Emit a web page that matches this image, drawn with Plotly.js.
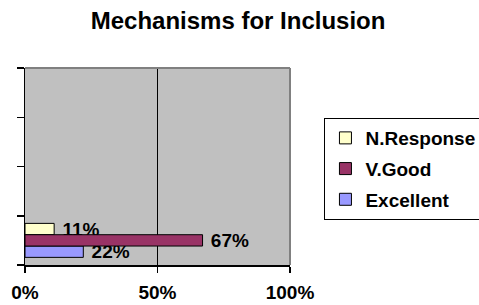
<!DOCTYPE html>
<html>
<head>
<meta charset="utf-8">
<script src="https://cdn.plot.ly/plotly-3.0.1.min.js"></script>
<style>html,body{margin:0;padding:0;background:#fff;}#chart{width:479px;height:305px;}</style>
</head>
<body>
<div id="chart"></div>
<script>
// Data
var categories = ['Mechanisms for Inclusion'];
var seriesNames = ['N.Response', 'V.Good', 'Excellent'];
var nResponse = [11];
var vGood = [67];
var excellent = [22];
var xTickVals = [0, 50, 100];
var xTickText = ['0%', '50%', '100%'];

var catPos = categories.map(function (c, i) { return i; });
var FONT = 'Liberation Sans, Arial, sans-serif';
var lblFont = {family: FONT, size: 19, color: '#000', weight: 'bold'};

function barTrace(name, vals, color, offset, rank) {
  return {
    type: 'bar', orientation: 'h', name: name,
    x: vals, y: catPos,
    width: 0.23, offset: offset,
    marker: {color: color, line: {color: '#000', width: 1}},
    text: vals.map(function (v) { return '\u00a0' + v + '%'; }),
    textposition: 'outside', constraintext: 'none', cliponaxis: false,
    textfont: lblFont,
    legendgroup: name, legendrank: rank,
    hoverinfo: 'skip'
  };
}

var data = [
  barTrace(seriesNames[0], nResponse, '#FFFFCC', 0.115, 1),
  barTrace(seriesNames[2], excellent, '#9999FF', -0.345, 3),
  barTrace(seriesNames[1], vGood, '#993366', -0.115, 2)
];

var layout = {
  width: 479, height: 305,
  margin: {l: 25, r: 189, t: 68, b: 40, autoexpand: false},
  paper_bgcolor: '#fff', plot_bgcolor: '#C0C0C0',
  font: {family: FONT, color: '#000'},
  barmode: 'overlay',
  showlegend: true,
  title: {text: '<b>Mechanisms for Inclusion</b>', x: 0.497, xref: 'container', xanchor: 'center',
          y: 0.933, yref: 'container', yanchor: 'middle',
          font: {family: FONT, size: 24, color: '#000'}},
  xaxis: {range: [0, 100], tickvals: xTickVals, ticktext: xTickText,
          showgrid: true, gridcolor: '#000', gridwidth: 1, zeroline: false,
          showline: true, linecolor: '#000', linewidth: 1.5,
          ticks: 'outside', ticklen: 6, tickcolor: '#000', tickwidth: 1.5,
          ticklabelstandoff: 4,
          tickfont: lblFont, fixedrange: true},
  yaxis: {range: [-0.5, 3.5], tickvals: [-0.5, 0.5, 1.5, 2.5, 3.5], showticklabels: false,
          showgrid: false, zeroline: false,
          showline: true, linecolor: '#000', linewidth: 1.5,
          ticks: 'outside', ticklen: 7, tickcolor: '#000', tickwidth: 1.5, fixedrange: true},
  legend: {x: 1.13, xanchor: 'left', y: 0.746, yanchor: 'top',
           bgcolor: '#fff', bordercolor: '#000', borderwidth: 1,
           font: {family: FONT, size: 19, color: '#000', weight: 'bold'},
           traceorder: 'grouped', tracegroupgap: 3},
  shapes: [
    {type: 'line', xref: 'paper', yref: 'paper', x0: 0, x1: 1, y0: 1, y1: 1, line: {color: '#808080', width: 2}, layer: 'above'},
    {type: 'line', xref: 'paper', yref: 'paper', x0: 1, x1: 1, y0: 0, y1: 1, line: {color: '#808080', width: 2}, layer: 'above'}
  ]
};

Plotly.newPlot('chart', data, layout, {displayModeBar: false, staticPlot: true});
</script>
</body>
</html>
